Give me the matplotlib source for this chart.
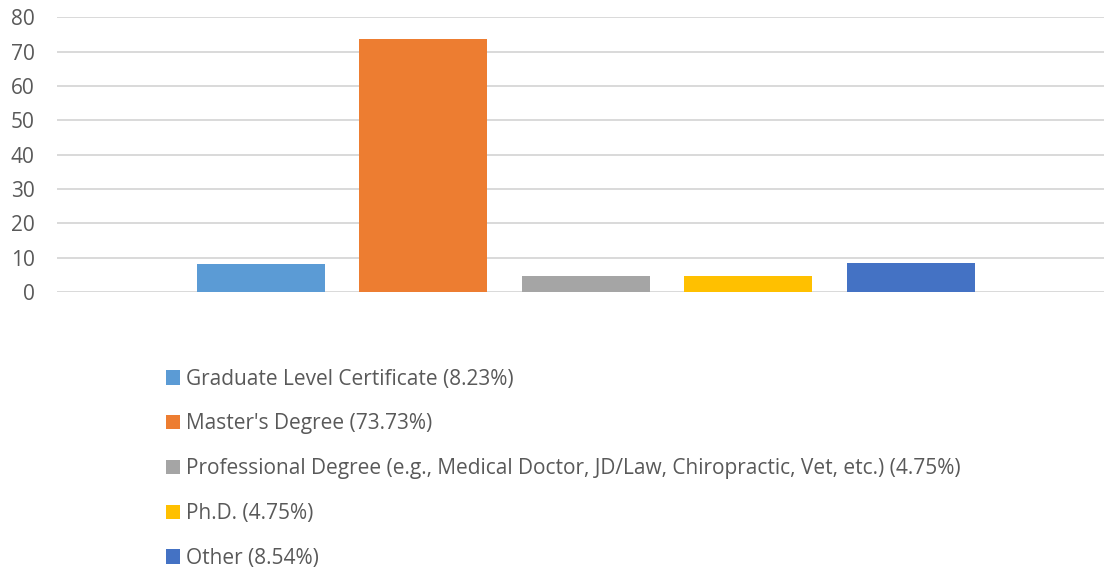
import matplotlib.pyplot as plt
from matplotlib.patches import Patch

plt.rcParams['font.family'] = ['Open Sans', 'DejaVu Sans']

# data
labels = [
    "Graduate Level Certificate (8.23%)",
    "Master's Degree (73.73%)",
    "Professional Degree (e.g., Medical Doctor, JD/Law, Chiropractic, Vet, etc.) (4.75%)",
    "Ph.D. (4.75%)",
    "Other (8.54%)",
]
values = [8.23, 73.73, 4.75, 4.75, 8.54]
colors = ["#5B9BD5", "#ED7D31", "#A5A5A5", "#FFC000", "#4472C4"]
yticks = [0, 10, 20, 30, 40, 50, 60, 70, 80]

fig = plt.figure(figsize=(11.04, 5.71), dpi=100)
ax = fig.add_axes([57 / 1104, 1 - 292 / 571, 1 - 57 / 1104, (292 - 17.3) / 571])

x = list(range(len(values)))
ax.bar(x, values, width=0.788, color=colors, zorder=3)

ax.set_xlim(-1.255, 5.188)
ax.set_ylim(0, 80)
ax.set_yticks(yticks)
ax.set_xticks([])
ax.grid(axis='y', color='#D9D9D9', linewidth=1.4, zorder=0)
for s in ax.spines.values():
    s.set_visible(False)
ax.tick_params(axis='y', length=0, pad=16, labelsize=15, labelcolor='#595959')

# legend below
handles = [Patch(facecolor=c, edgecolor='none') for c in colors]
fig.legend(handles, labels, loc='upper left', bbox_to_anchor=(147 / 1104, 1 - 350 / 571),
           frameon=False, fontsize=15, labelcolor='#595959', handlelength=0.67,
           handleheight=0.67, handletextpad=0.3, labelspacing=1.14)

fig.savefig('out.png', dpi=100)
